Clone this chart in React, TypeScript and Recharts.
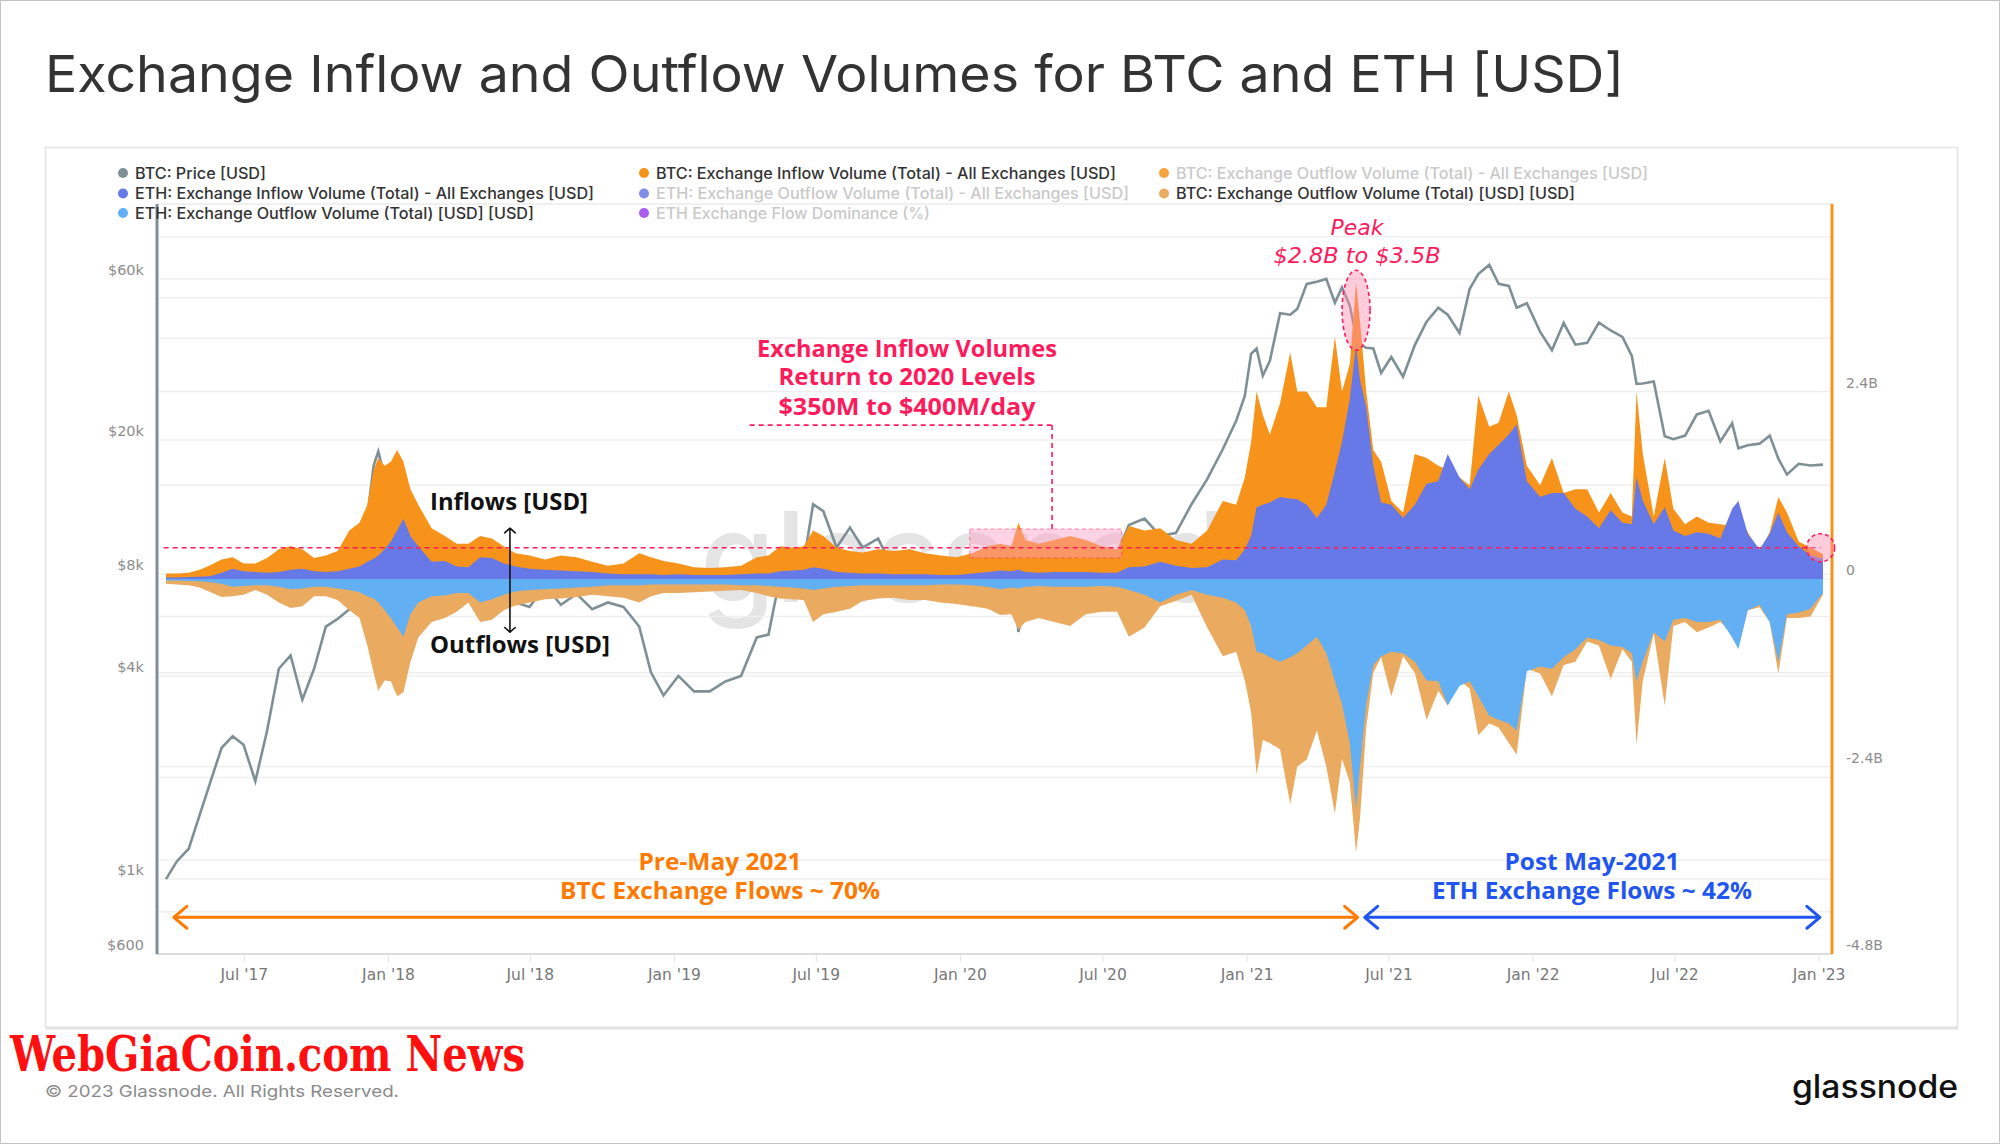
import React from 'react';
import {
  ComposedChart, Area, Line, XAxis, YAxis, CartesianGrid,
  ReferenceLine, ReferenceArea, ReferenceDot,
} from 'recharts';

// ---------------- DATA ----------------
const dates = [
  // 2017
  '2017-03-23','2017-04-06','2017-04-21','2017-05-05','2017-05-19','2017-06-02','2017-06-16','2017-06-30','2017-07-15','2017-07-30','2017-08-14','2017-08-29','2017-09-13','2017-09-28','2017-10-13','2017-10-28','2017-11-12','2017-11-25','2017-12-05','2017-12-13','2017-12-19','2017-12-27',
  // 2018
  '2018-01-04','2018-01-12','2018-01-20','2018-01-29','2018-02-08','2018-02-25','2018-03-14','2018-03-29','2018-04-13','2018-04-28','2018-05-13','2018-05-28','2018-06-12','2018-06-30','2018-07-20','2018-08-09','2018-08-29','2018-09-18','2018-10-08','2018-10-28','2018-11-17','2018-12-02','2018-12-18',
  // 2019
  '2019-01-06','2019-01-26','2019-02-15','2019-03-07','2019-03-27','2019-04-16','2019-05-01','2019-05-16','2019-05-31','2019-06-15','2019-06-27','2019-07-10','2019-07-27','2019-08-13','2019-08-29','2019-09-18','2019-10-08','2019-10-28','2019-11-17','2019-12-07','2019-12-27',
  // 2020
  '2020-01-16','2020-02-05','2020-02-21','2020-03-06','2020-03-15','2020-03-24','2020-04-10','2020-04-30','2020-05-20','2020-06-09','2020-06-29','2020-07-19','2020-08-03','2020-08-23','2020-09-12','2020-10-02','2020-10-22','2020-11-11','2020-12-01','2020-12-18','2020-12-29',
  // 2021
  '2021-01-06','2021-01-13','2021-01-21','2021-01-30','2021-02-12','2021-02-25','2021-03-06','2021-03-18','2021-03-31','2021-04-12','2021-04-23','2021-05-02','2021-05-12','2021-05-20','2021-05-25','2021-06-02','2021-06-11','2021-06-21','2021-07-04','2021-07-19','2021-08-03','2021-08-18','2021-09-02','2021-09-14','2021-09-29','2021-10-12','2021-10-23','2021-11-06','2021-11-18','2021-12-01','2021-12-11','2021-12-24',
  // 2022
  '2022-01-10','2022-01-25','2022-02-09','2022-02-24','2022-03-11','2022-03-26','2022-04-10','2022-04-25','2022-05-07','2022-05-13','2022-05-21','2022-06-04','2022-06-18','2022-06-29','2022-07-14','2022-07-29','2022-08-13','2022-08-28','2022-09-12','2022-09-20','2022-10-02','2022-10-17','2022-10-30','2022-11-10','2022-11-21','2022-12-06','2022-12-21',
  // 2023
  '2023-01-06',
];

// BTC price [USD]
const btcPrice = [
  1000, 1130, 1230, 1550, 1950, 2450, 2650, 2500, 1950, 2750, 4200, 4600, 3400, 4200, 5600, 5900, 6300, 8800, 11800, 16800, 18500, 15500,
  15000, 13800, 12000, 11200, 7800, 9700, 9100, 7100, 7900, 9300, 8700, 7300, 6600, 6400, 7400, 6500, 7000, 6300, 6600, 6400, 5600, 4100, 3500,
  4000, 3600, 3600, 3850, 4000, 5200, 5300, 7900, 8500, 8700, 12900, 12300, 9600, 11000, 9600, 10200, 8200, 9400, 8500, 7500, 7200,
  8800, 9600, 9700, 9100, 5400, 6700, 6900, 8700, 9500, 9700, 9200, 9200, 11200, 11700, 10400, 10600, 12900, 15300, 18800, 22800, 27000,
  36000, 37300, 31000, 34300, 47500, 47000, 48900, 58000, 58800, 60000, 51000, 56600, 50000, 40600, 38400, 37500, 37300, 31600, 35200, 30800, 38200, 44800, 49300, 47000, 41500, 56000, 62000, 66000, 58000, 57200, 49300, 50800,
  41800, 36900, 44400, 38300, 38800, 44500, 42200, 40400, 35500, 29300, 29400, 29800, 20500, 20100, 20600, 23800, 24400, 19800, 22400, 18900, 19300, 19500, 20600, 17600, 15800, 17000, 16800,
  16900,
];

// Exchange volumes [billion USD]
const btcInflow = [
  0.07, 0.07, 0.08, 0.12, 0.18, 0.25, 0.28, 0.2, 0.2, 0.27, 0.38, 0.42, 0.38, 0.27, 0.3, 0.36, 0.62, 0.72, 0.95, 1.4, 1.55, 1.45,
  1.5, 1.65, 1.5, 1.15, 0.95, 0.65, 0.55, 0.45, 0.45, 0.55, 0.52, 0.42, 0.33, 0.3, 0.25, 0.3, 0.28, 0.22, 0.17, 0.2, 0.33, 0.28, 0.23,
  0.2, 0.15, 0.14, 0.15, 0.17, 0.28, 0.3, 0.42, 0.4, 0.42, 0.62, 0.55, 0.4, 0.36, 0.34, 0.38, 0.36, 0.38, 0.33, 0.3, 0.28,
  0.33, 0.42, 0.45, 0.42, 0.72, 0.5, 0.45, 0.5, 0.55, 0.5, 0.42, 0.38, 0.68, 0.62, 0.65, 0.5, 0.45, 0.62, 1.0, 0.95, 1.3,
  1.75, 2.4, 2.1, 1.85, 2.25, 2.9, 2.4, 2.4, 2.2, 2.2, 3.1, 2.4, 2.75, 3.8, 3.3, 2.4, 1.65, 1.5, 1.0, 0.85, 1.6, 1.55, 1.45, 1.4, 1.3, 1.2, 2.35, 1.95, 2.0, 2.4, 2.1, 1.45,
  1.2, 1.55, 1.1, 1.15, 1.15, 0.85, 1.1, 0.85, 0.8, 2.4, 1.6, 0.8, 1.55, 0.9, 0.7, 0.8, 0.72, 0.7, 0.68, 0.85, 0.6, 0.35, 0.6, 1.05, 0.85, 0.48, 0.4,
  0.32,
];

const ethInflow = [
  0.02, 0.02, 0.025, 0.03, 0.04, 0.08, 0.13, 0.1, 0.09, 0.08, 0.09, 0.12, 0.13, 0.1, 0.09, 0.1, 0.13, 0.16, 0.22, 0.26, 0.3, 0.38,
  0.48, 0.62, 0.77, 0.55, 0.42, 0.22, 0.23, 0.16, 0.15, 0.28, 0.27, 0.2, 0.16, 0.13, 0.12, 0.11, 0.1, 0.09, 0.07, 0.06, 0.06, 0.06, 0.05,
  0.06, 0.05, 0.05, 0.05, 0.06, 0.07, 0.07, 0.1, 0.11, 0.12, 0.15, 0.13, 0.09, 0.08, 0.07, 0.07, 0.06, 0.06, 0.06, 0.05, 0.05,
  0.07, 0.09, 0.11, 0.1, 0.12, 0.09, 0.08, 0.09, 0.09, 0.09, 0.08, 0.08, 0.15, 0.16, 0.22, 0.17, 0.14, 0.15, 0.25, 0.24, 0.38,
  0.55, 0.92, 0.95, 0.98, 1.05, 1.03, 1.02, 0.95, 0.78, 0.95, 1.38, 1.75, 2.3, 3.0, 2.55, 2.2, 1.45, 0.98, 0.95, 0.78, 0.95, 1.22, 1.25, 1.6, 1.3, 1.15, 1.4, 1.6, 1.72, 1.85, 1.98, 1.25,
  1.05, 1.1, 1.1, 0.9, 0.8, 0.65, 0.88, 0.72, 0.7, 1.3, 1.0, 0.7, 0.92, 0.62, 0.55, 0.6, 0.58, 0.52, 0.9, 1.0, 0.58, 0.38, 0.58, 0.85, 0.6, 0.42, 0.3,
  0.26,
];

const btcOutflow = [
  -0.06, -0.07, -0.08, -0.11, -0.17, -0.23, -0.22, -0.2, -0.14, -0.2, -0.3, -0.37, -0.35, -0.22, -0.22, -0.27, -0.4, -0.5, -0.85, -1.2, -1.43, -1.3,
  -1.31, -1.5, -1.45, -1.06, -0.75, -0.55, -0.5, -0.42, -0.3, -0.55, -0.52, -0.4, -0.34, -0.3, -0.26, -0.25, -0.23, -0.2, -0.22, -0.24, -0.3, -0.22, -0.18,
  -0.18, -0.17, -0.16, -0.15, -0.14, -0.18, -0.22, -0.25, -0.26, -0.27, -0.55, -0.45, -0.42, -0.38, -0.28, -0.25, -0.24, -0.27, -0.27, -0.3, -0.32,
  -0.35, -0.38, -0.46, -0.45, -0.65, -0.55, -0.5, -0.55, -0.6, -0.45, -0.42, -0.42, -0.74, -0.62, -0.35, -0.28, -0.2, -0.62, -0.99, -0.93, -1.3,
  -1.7, -2.5, -2.06, -2.1, -2.18, -2.88, -2.4, -2.31, -1.94, -2.4, -3.0, -2.3, -2.6, -3.5, -3.07, -1.9, -1.2, -1.0, -1.5, -0.99, -1.2, -1.8, -1.43, -1.62, -1.3, -1.4, -2.0, -1.85, -1.9, -2.1, -2.25, -1.15,
  -1.21, -1.5, -1.1, -1.06, -0.8, -0.85, -1.28, -0.9, -1.06, -2.12, -1.3, -0.7, -1.62, -0.6, -0.55, -0.68, -0.62, -0.55, -0.7, -0.87, -0.4, -0.36, -0.55, -1.21, -0.5, -0.5, -0.48,
  -0.2,
];

const ethOutflow = [
  -0.02, -0.02, -0.025, -0.03, -0.04, -0.06, -0.1, -0.09, -0.08, -0.08, -0.1, -0.13, -0.12, -0.1, -0.1, -0.12, -0.14, -0.17, -0.22, -0.25, -0.3, -0.4,
  -0.5, -0.62, -0.74, -0.45, -0.3, -0.22, -0.21, -0.18, -0.18, -0.3, -0.26, -0.2, -0.16, -0.14, -0.13, -0.12, -0.11, -0.1, -0.08, -0.08, -0.08, -0.07, -0.07,
  -0.07, -0.07, -0.07, -0.07, -0.08, -0.08, -0.09, -0.1, -0.11, -0.12, -0.14, -0.12, -0.1, -0.09, -0.08, -0.08, -0.08, -0.08, -0.08, -0.07, -0.07,
  -0.08, -0.1, -0.13, -0.11, -0.12, -0.1, -0.09, -0.1, -0.1, -0.1, -0.09, -0.1, -0.14, -0.2, -0.3, -0.2, -0.14, -0.2, -0.24, -0.3, -0.4,
  -0.6, -0.93, -0.95, -1.0, -1.06, -1.0, -0.95, -0.85, -0.74, -0.95, -1.31, -1.6, -2.1, -2.94, -2.4, -1.6, -1.1, -0.99, -0.93, -0.95, -1.06, -1.3, -1.31, -1.62, -1.37, -1.31, -1.5, -1.75, -1.8, -1.85, -1.94, -1.18,
  -1.12, -1.15, -1.0, -0.9, -0.75, -0.78, -0.85, -0.87, -0.95, -1.31, -1.05, -0.68, -0.8, -0.52, -0.5, -0.55, -0.55, -0.52, -0.75, -0.9, -0.4, -0.33, -0.55, -1.06, -0.45, -0.43, -0.38,
  -0.18,
];

// Axis ticks
const xTickDates = ['2017-07-01','2018-01-01','2018-07-01','2019-01-01','2019-07-01','2020-01-01','2020-07-01','2021-01-01','2021-07-01','2022-01-01','2022-07-01','2023-01-01'];
const xTickLabels = ["Jul '17","Jan '18","Jul '18","Jan '19","Jul '19","Jan '20","Jul '20","Jan '21","Jul '21","Jan '22","Jul '22","Jan '23"];
const priceTicks = [600, 800, 1000, 2000, 4000, 6000, 8000, 20000, 40000, 60000, 80000];
const priceTickLabels = ['$600', '', '$1k', '', '$4k', '', '$8k', '$20k', '', '$60k', ''];
const flowTicks = [-4.8, -3.6, -2.4, -1.2, 0, 1.2, 2.4, 3.6, 4.8];
const flowTickLabels = ['-4.8B', '', '-2.4B', '', '0', '', '2.4B', '', ''];

// Legend
const legendLabels = [
  'BTC: Price [USD]',
  'BTC: Exchange Inflow Volume (Total) - All Exchanges [USD]',
  'BTC: Exchange Outflow Volume (Total) - All Exchanges [USD]',
  'ETH: Exchange Inflow Volume (Total) - All Exchanges [USD]',
  'ETH: Exchange Outflow Volume (Total) - All Exchanges [USD]',
  'BTC: Exchange Outflow Volume (Total) [USD] [USD]',
  'ETH: Exchange Outflow Volume (Total) [USD] [USD]',
  'ETH Exchange Flow Dominance (%)',
];
const legendActive = [true, true, false, true, false, true, true, false];

// Annotation anchors (data space)
const levelValue = 0.4;
const levelStart = '2017-03-20';
const levelEnd = '2023-01-03';
const rangeBox = { from: '2020-01-13', to: '2020-07-25', low: 0.27, high: 0.64 };
const calloutElbow = { from: '2019-04-07', corner: '2020-04-27', level: 1.97 };
const peakDate = '2021-05-20';
const peakValue = 3.44;
const flowArrowLevel = -4.33;
const btcEraArrow = ['2017-04-02', '2021-05-22'];
const ethEraArrow = ['2021-05-31', '2023-01-02'];
const ioArrow = { date: '2018-06-05', top: 0.65, bottom: -0.68 };

// ---------------- STYLE ----------------
const C = {
  price: '#7e9096',
  btcIn: '#f7931a',
  ethIn: '#6679e6',
  btcOut: '#eaaa60',
  ethOut: '#62b0f3',
  purple: '#9b3ef0',
  pink: '#ff1a5c',
  axisText: '#8c8c8c',
  grid: '#efefef',
};
const legendColors = [C.price, C.btcIn, C.btcIn, C.ethIn, C.ethIn, C.btcOut, C.ethOut, C.purple];
const legendPos = [
  [123, 173], [644, 173], [1164, 173],
  [123, 193.5], [644, 193.5], [1164, 193.5],
  [123, 213], [644, 213],
];
const legendWidths = [131, 460, 472, 459, 473, 399, 399, 274];

const DAY0 = Date.parse('2017-01-01');
const toDay = (s: string) => (Date.parse(s) - DAY0) / 86400000;

const PriceTick = (props: any) => {
  const { x, y, payload } = props;
  const i = priceTicks.indexOf(payload.value);
  const label = i >= 0 ? priceTickLabels[i] : '';
  if (!label) return <g />;
  return (
    <text x={x} y={y - 9} textAnchor="end" dominantBaseline="central" fontSize={14.5} fill={C.axisText} fontFamily="DejaVu Sans">
      {label}
    </text>
  );
};

const FlowTick = (props: any) => {
  const { x, y, payload } = props;
  const i = flowTicks.indexOf(payload.value);
  const label = i >= 0 ? flowTickLabels[i] : '';
  if (!label) return <g />;
  return (
    <text x={x} y={y - 9} textAnchor="start" dominantBaseline="central" fontSize={14} fill={C.axisText} fontFamily="DejaVu Sans">
      {label}
    </text>
  );
};

const DateTick = (props: any) => {
  const { x, y, payload } = props;
  const days = xTickDates.map(toDay);
  const i = days.findIndex((d) => Math.abs(d - payload.value) < 0.5);
  return (
    <text x={x} y={y} dy={7} textAnchor="middle" dominantBaseline="central" fontSize={15.5} fill="#777" fontFamily="DejaVu Sans">
      {i >= 0 ? xTickLabels[i] : ''}
    </text>
  );
};

const makeArrow = (color: string, width: number, len: number, spread: number) => (p: any) => {
  const { x1, y1, x2, y2 } = p;
  if ([x1, y1, x2, y2].some((v) => v == null || Number.isNaN(v))) return <g />;
  const a = Math.atan2(y2 - y1, x2 - x1);
  const head = (x: number, y: number, ang: number) =>
    `M${x - len * Math.cos(ang - spread)},${y - len * Math.sin(ang - spread)}L${x},${y}L${x - len * Math.cos(ang + spread)},${y - len * Math.sin(ang + spread)}`;
  return (
    <g>
      <line x1={x1} y1={y1} x2={x2} y2={y2} stroke={color} strokeWidth={width} />
      <path d={head(x2, y2, a)} fill="none" stroke={color} strokeWidth={width} strokeLinecap="round" strokeLinejoin="round" />
      <path d={head(x1, y1, a + Math.PI)} fill="none" stroke={color} strokeWidth={width} strokeLinecap="round" strokeLinejoin="round" />
    </g>
  );
};

const dashedSeg = (p: any) => {
  const { x1, y1, x2, y2 } = p;
  return <line x1={x1} y1={y1} x2={x2} y2={y2} stroke={C.pink} strokeWidth={1.6} strokeDasharray="5 4" />;
};

const PeakEllipse = (p: any) => (
  <ellipse cx={p.cx} cy={p.cy} rx={14} ry={40} fill="#ff8fb0" fillOpacity={0.45} stroke={C.pink} strokeWidth={1.6} strokeDasharray="4 3" />
);
const EndCircle = (p: any) => (
  <ellipse cx={p.cx} cy={p.cy} rx={14} ry={14} fill="#ff8fb0" fillOpacity={0.45} stroke={C.pink} strokeWidth={1.6} strokeDasharray="4 3" />
);

export default function App() {
  const rows = dates.map((d, i) => ({
    day: toDay(d),
    price: btcPrice[i],
    btcIn: btcInflow[i],
    ethIn: ethInflow[i],
    btcOut: btcOutflow[i],
    ethOut: ethOutflow[i],
  }));
  const xTicks = xTickDates.map(toDay);

  return (
    <div style={{ position: 'absolute', left: 0, top: 0, width: 2000, height: 1144, background: '#fff', overflow: 'hidden' }}>
      {/* background frame + watermark */}
      <svg width={2000} height={1144} style={{ position: 'absolute', left: 0, top: 0 }}>
        <rect x={0.5} y={0.5} width={1999} height={1143} fill="#fff" stroke="#c4c4c4" />
        <rect x={45.5} y={147.5} width={1912} height={880} fill="#fff" stroke="#e3e3e3" strokeWidth={1.5} />
        <line x1={46} x2={1958} y1={1028} y2={1028} stroke="#e2e2e2" strokeWidth={3} />
        <text x={700} y={602} fontSize={125} fill="#e4e4e4" fontFamily="Inter" fontWeight={500} textLength={600} lengthAdjust="spacingAndGlyphs">
          glassnode
        </text>
      </svg>

      <div style={{ position: 'absolute', left: 0, top: 0 }}>
        <ComposedChart width={2000} height={1144} data={rows} margin={{ top: 204, right: 108, bottom: 150, left: 97 }}>
          <CartesianGrid yAxisId="flow" vertical={false} stroke={C.grid} strokeWidth={1.5} />
          <CartesianGrid yAxisId="price" vertical={false} stroke={C.grid} strokeWidth={1.5} />
          <XAxis
            dataKey="day"
            type="number"
            domain={[69.5, 2207.5]}
            allowDataOverflow
            ticks={xTicks}
            tick={<DateTick />}
            tickSize={8}
            tickMargin={6}
            height={40}
            axisLine={{ stroke: '#dcdcdc', strokeWidth: 2 }}
            tickLine={{ stroke: '#e2e2e2' }}
            interval={0}
          />
          <YAxis
            yAxisId="price"
            orientation="left"
            scale="log"
            domain={[600, 100000]}
            allowDataOverflow
            ticks={priceTicks}
            tick={<PriceTick />}
            tickSize={8}
            tickMargin={5}
            tickLine={false}
            width={60}
            axisLine={{ stroke: C.price, strokeWidth: 3 }}
            interval={0}
          />
          <YAxis
            yAxisId="flow"
            orientation="right"
            type="number"
            domain={[-4.8, 4.8]}
            allowDataOverflow
            ticks={flowTicks}
            tick={<FlowTick />}
            tickSize={8}
            tickMargin={6}
            tickLine={false}
            width={60}
            axisLine={{ stroke: C.btcIn, strokeWidth: 3 }}
            interval={0}
          />

          <Line yAxisId="price" dataKey="price" type="linear" stroke={C.price} strokeWidth={2.6} dot={false} activeDot={false} isAnimationActive={false} zIndex={50} />

          <Area yAxisId="flow" dataKey="btcIn" type="linear" fill={C.btcIn} fillOpacity={1} stroke="none" baseValue={0} isAnimationActive={false} dot={false} activeDot={false} />
          <Area yAxisId="flow" dataKey="ethIn" type="linear" fill={C.ethIn} fillOpacity={1} stroke="none" baseValue={0} isAnimationActive={false} dot={false} activeDot={false} />
          <Area yAxisId="flow" dataKey="btcOut" type="linear" fill={C.btcOut} fillOpacity={1} stroke="none" baseValue={0} isAnimationActive={false} dot={false} activeDot={false} />
          <Area yAxisId="flow" dataKey="ethOut" type="linear" fill={C.ethOut} fillOpacity={1} stroke="none" baseValue={0} isAnimationActive={false} dot={false} activeDot={false} />

          <ReferenceArea
            yAxisId="flow"
            x1={toDay(rangeBox.from)}
            x2={toDay(rangeBox.to)}
            y1={rangeBox.low}
            y2={rangeBox.high}
            fill="#ff9ec0"
            fillOpacity={0.45}
            stroke={C.pink}
            strokeOpacity={0.5}
            strokeDasharray="4 3"
            zIndex={700}
          />
          <ReferenceLine
            yAxisId="flow"
            segment={[{ x: toDay(levelStart), y: levelValue }, { x: toDay(levelEnd), y: levelValue }]}
            shape={dashedSeg}
            zIndex={710}
          />
          <ReferenceLine
            yAxisId="flow"
            segment={[{ x: toDay(calloutElbow.corner), y: rangeBox.high }, { x: toDay(calloutElbow.corner), y: calloutElbow.level }]}
            shape={dashedSeg}
            zIndex={710}
          />
          <ReferenceLine
            yAxisId="flow"
            segment={[{ x: toDay(calloutElbow.from), y: calloutElbow.level }, { x: toDay(calloutElbow.corner), y: calloutElbow.level }]}
            shape={dashedSeg}
            zIndex={710}
          />
          <ReferenceDot yAxisId="flow" x={toDay(peakDate)} y={peakValue} r={14} shape={PeakEllipse} zIndex={720} />
          <ReferenceDot yAxisId="flow" x={toDay(levelEnd)} y={levelValue} r={14} shape={EndCircle} zIndex={720} />
          <ReferenceLine
            yAxisId="flow"
            segment={[{ x: toDay(btcEraArrow[0]), y: flowArrowLevel }, { x: toDay(btcEraArrow[1]), y: flowArrowLevel }]}
            shape={makeArrow('#ff7a00', 3, 17, 0.7)}
            zIndex={730}
          />
          <ReferenceLine
            yAxisId="flow"
            segment={[{ x: toDay(ethEraArrow[0]), y: flowArrowLevel }, { x: toDay(ethEraArrow[1]), y: flowArrowLevel }]}
            shape={makeArrow('#1f55f0', 3, 17, 0.7)}
            zIndex={730}
          />
          <ReferenceLine
            yAxisId="flow"
            segment={[{ x: toDay(ioArrow.date), y: ioArrow.top }, { x: toDay(ioArrow.date), y: ioArrow.bottom }]}
            shape={makeArrow('#111', 1.6, 7, 0.85)}
            zIndex={730}
          />
        </ComposedChart>
      </div>

      {/* text overlay */}
      <svg width={2000} height={1144} style={{ position: 'absolute', left: 0, top: 0, pointerEvents: 'none' }}>
        <text x={45} y={92} fontSize={51} fill="#333" fontFamily="Inter" fontWeight={400} textLength={1579} lengthAdjust="spacingAndGlyphs">
          Exchange Inflow and Outflow Volumes for BTC and ETH [USD]
        </text>

        {legendLabels.map((lab, i) => (
          <g key={lab}>
            <circle cx={legendPos[i][0]} cy={legendPos[i][1]} r={5} fill={legendColors[i]} opacity={legendActive[i] ? 1 : 0.85} />
            <text
              x={legendPos[i][0] + 12}
              y={legendPos[i][1] + 5.5}
              fontSize={15.5}
              fontFamily="Inter"
              fontWeight={500}
              fill={legendActive[i] ? '#333' : '#c9c9c9'}
              textLength={legendWidths[i]}
              lengthAdjust="spacingAndGlyphs"
            >
              {lab}
            </text>
          </g>
        ))}

        <g fill={C.pink} fontFamily="DejaVu Sans" fontStyle="italic" textAnchor="middle" fontSize={22}>
          <text x={1357} y={235} textLength={53} lengthAdjust="spacingAndGlyphs">Peak</text>
          <text x={1357} y={263} textLength={167} lengthAdjust="spacingAndGlyphs">$2.8B to $3.5B</text>
        </g>

        <g fill={C.pink} fontFamily="Open Sans" fontWeight={700} textAnchor="middle" fontSize={23}>
          <text x={907} y={357} textLength={300} lengthAdjust="spacingAndGlyphs">Exchange Inflow Volumes</text>
          <text x={907} y={385} textLength={257} lengthAdjust="spacingAndGlyphs">Return to 2020 Levels</text>
          <text x={907} y={415} textLength={257} lengthAdjust="spacingAndGlyphs">$350M to $400M/day</text>
        </g>

        <g fill="#111" fontFamily="Open Sans" fontWeight={700} fontSize={24}>
          <text x={430} y={510} textLength={158} lengthAdjust="spacingAndGlyphs">Inflows [USD]</text>
          <text x={430} y={653} textLength={180} lengthAdjust="spacingAndGlyphs">Outflows [USD]</text>
        </g>

        <g fontFamily="Open Sans" fontWeight={700} fontSize={23} textAnchor="middle">
          <text x={720} y={870} fill="#ff7a00" textLength={163} lengthAdjust="spacingAndGlyphs">Pre-May 2021</text>
          <text x={720} y={899} fill="#ff7a00" textLength={320} lengthAdjust="spacingAndGlyphs">BTC Exchange Flows ~ 70%</text>
          <text x={1592} y={870} fill="#1f55f0" textLength={175} lengthAdjust="spacingAndGlyphs">Post May-2021</text>
          <text x={1592} y={899} fill="#1f55f0" textLength={320} lengthAdjust="spacingAndGlyphs">ETH Exchange Flows ~ 42%</text>
        </g>

        <text x={10} y={1071} fontSize={44} fill="#ff1010" fontFamily="DejaVu Serif Condensed, DejaVu Serif" fontWeight={700} textLength={515} lengthAdjust="spacingAndGlyphs" transform="translate(0 -107) scale(1 1.1)">
          WebGiaCoin.com News
        </text>
        <text x={45} y={1097} fontSize={16.5} fill="#8a8a8a" fontFamily="Inter" textLength={354} lengthAdjust="spacingAndGlyphs">
          © 2023 Glassnode. All Rights Reserved.
        </text>
        <text x={1792} y={1098} fontSize={32} fill="#111" fontFamily="Inter" fontWeight={500} textLength={166} lengthAdjust="spacingAndGlyphs">
          glassnode
        </text>
      </svg>
    </div>
  );
}
